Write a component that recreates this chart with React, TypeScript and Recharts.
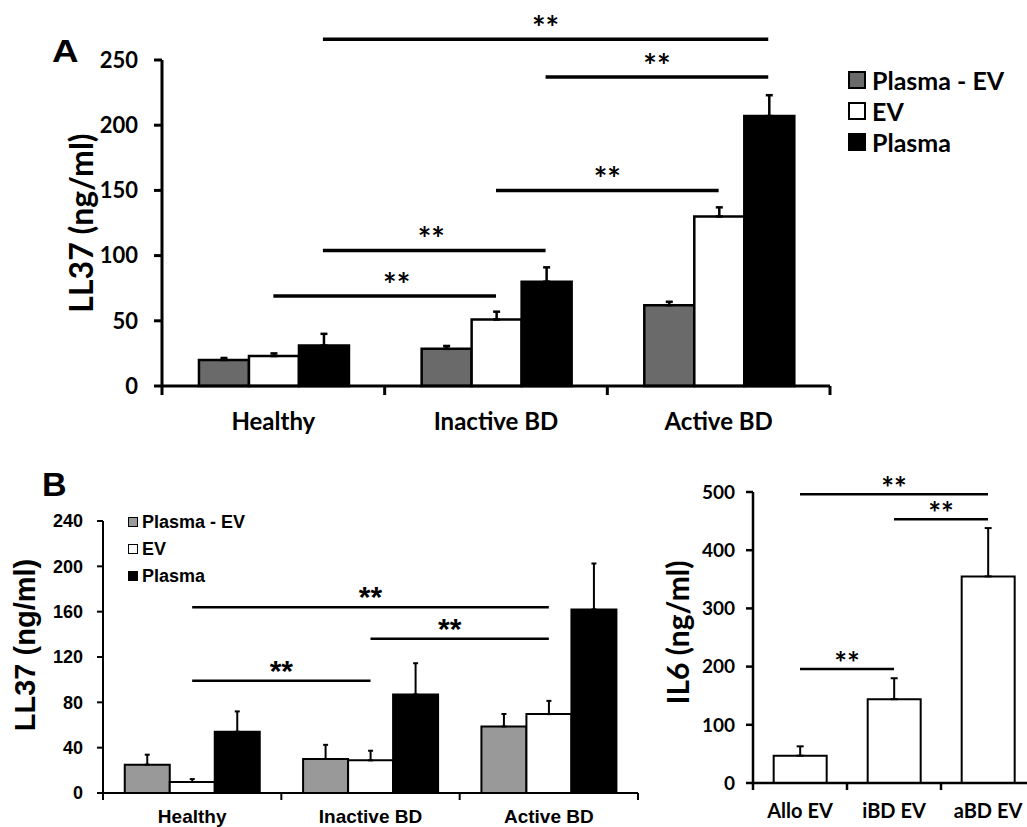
import React from 'react';
import { BarChart, Bar, XAxis, YAxis, ReferenceLine, ErrorBar, Legend, Label } from 'recharts';

// ---------- Panel A data ----------
const groupsA = ['Healthy', 'Inactive BD', 'Active BD'];
const plasmaEvA = [20, 28.5, 62];
const plasmaEvErrA = [1.5, 2.2, 2.6];
const evA = [23, 51, 130];
const evErrA = [2, 6, 7];
const plasmaA = [31, 80, 207];
const plasmaErrA = [9, 11, 16];
const yTicksA = [0, 50, 100, 150, 200, 250];
// significance bars: [group, series] -> [group, series] at level y
const sigA = [
  { from: [0, 2], to: [2, 2], y: 266, dx: 0 },
  { from: [1, 2], to: [2, 2], y: 237, dx: 0 },
  { from: [1, 1], to: [2, 1], y: 150, dx: 0 },
  { from: [0, 2], to: [1, 2], y: 104, dx: -3 },
  { from: [0, 1], to: [1, 1], y: 69, dx: 12 },
];

// ---------- Panel B data ----------
const groupsB = ['Healthy', 'Inactive BD', 'Active BD'];
const plasmaEvB = [25, 30, 58.7];
const plasmaEvErrB = [8.8, 12.5, 11];
const evB = [9.7, 28.8, 69.6];
const evErrB = [2.6, 8.5, 11.7];
const plasmaB = [54, 87, 162];
const plasmaErrB = [18, 27.5, 40.5];
const yTicksB = [0, 40, 80, 120, 160, 200, 240];
const sigB = [
  { from: [0, 1], to: [2, 1], y: 164, dx: 0 },
  { from: [1, 1], to: [2, 1], y: 136, dx: -10 },
  { from: [0, 1], to: [1, 1], y: 99, dx: 0 },
];

// ---------- Panel C data ----------
const groupsC = ['Allo EV', 'iBD EV', 'aBD EV'];
const il6C = [47, 144, 355];
const il6ErrC = [16, 36, 83];
const yTicksC = [0, 100, 200, 300, 400, 500];
const sigC = [
  { from: [0, 0], to: [2, 0], y: 496, dx: 0 },
  { from: [1, 0], to: [2, 0], y: 453, dx: 0 },
  { from: [0, 0], to: [1, 0], y: 196, dx: 0 },
];

const seriesNames = ['Plasma - EV', 'EV', 'Plasma'];

const dataA = groupsA.map((name, i) => ({
  name, pos: i,
  pev: plasmaEvA[i], pevErr: [0, plasmaEvErrA[i]],
  ev: evA[i], evErr: [0, evErrA[i]],
  pl: plasmaA[i], plErr: [0, plasmaErrA[i]],
}));
const dataB = groupsB.map((name, i) => ({
  name, pos: i,
  pev: plasmaEvB[i], pevErr: [0, plasmaEvErrB[i]],
  ev: evB[i], evErr: [0, evErrB[i]],
  pl: plasmaB[i], plErr: [0, plasmaErrB[i]],
}));
const dataC = groupsC.map((name, i) => ({ name, pos: i, v: il6C[i], vErr: [0, il6ErrC[i]] }));

const CAL = "Lato, 'Open Sans', sans-serif";
const ARI = "'Liberation Sans', Arial, sans-serif";

const gapA = 0.166;
const gapB = 0.122;
const gapC = 0.22;

const barCenter = (g: number, s: number, n: number, gap: number) => g + gap + ((s + 0.5) * (1 - 2 * gap)) / n;
const bandTicks = (n: number) => {
  const t: number[] = [];
  for (let i = 0; i < n; i++) t.push(i, i + 0.5);
  t.push(n);
  return t;
};

const makeXTick = (labels: string[], o: { len: number; sw: number; dy: number; font: string; size: number }) => (props: any) => {
  const { x, y, payload } = props;
  const v = payload.value;
  if (Number.isInteger(v)) {
    return <line x1={x} x2={x} y1={y} y2={y + o.len} stroke="#000" strokeWidth={o.sw} />;
  }
  return (
    <text x={x} y={y + o.dy} textAnchor="middle" fontFamily={o.font} fontSize={o.size} fontWeight="bold" fill="#000">
      {labels[Math.floor(v)]}
    </text>
  );
};

const makeStar = (font: string, size: number, dy: number, dx: number) => (props: any) => {
  const vb = props.viewBox || {};
  const cx = (vb.x || 0) + (vb.width || 0) / 2 + dx;
  return (
    <text x={cx} y={(vb.y || 0) + dy} textAnchor="middle" fontFamily={font} fontSize={size} fontWeight="bold" fill="#000">
      **
    </text>
  );
};

const makeYLabel = (text: string, font: string, size: number, offX: number, offY: number) => (props: any) => {
  const vb = props.viewBox || {};
  const cx = (vb.x || 0) + offX;
  const cy = (vb.y || 0) + (vb.height || 0) / 2 + offY;
  return (
    <text x={cx} y={cy} transform={`rotate(-90 ${cx} ${cy})`} textAnchor="middle" dominantBaseline="central" fontFamily={font} fontSize={size} fontWeight="bold" fill="#000">
      {text}
    </text>
  );
};

const makeLegend = (fills: string[], o: { rowH: number; sq: number; border: number; gap: number; font: string; size: number }) => () => (
  <div>
    {seriesNames.map((name, i) => (
      <div key={i} style={{ display: 'flex', alignItems: 'center', height: o.rowH }}>
        <div style={{ width: o.sq, height: o.sq, boxSizing: 'border-box', border: `${o.border}px solid #000`, background: fills[i], marginLeft: 2 }} />
        <span style={{ marginLeft: o.gap, fontFamily: o.font, fontSize: o.size, fontWeight: 'bold', color: '#000', whiteSpace: 'nowrap', lineHeight: 1 }}>{name}</span>
      </div>
    ))}
  </div>
);

const fillsA = ['#6a6a6a', '#ffffff', '#000000'];
const fillsB = ['#999999', '#ffffff', '#000000'];

export default function App() {
  return (
    <div style={{ position: 'absolute', left: 0, top: 0, width: 1027, height: 827, overflow: 'hidden', background: '#fff' }}>
      <div style={{ position: 'absolute', left: 52, top: 35, fontFamily: ARI, fontWeight: 'bold', fontSize: 32, lineHeight: 1, transform: 'scaleX(1.15)', transformOrigin: 'left top' }}>A</div>
      <div style={{ position: 'absolute', left: 42, top: 467, fontFamily: ARI, fontWeight: 'bold', fontSize: 34, lineHeight: 1 }}>B</div>

      {/* Panel A */}
      <div style={{ position: 'absolute', left: 0, top: 0 }}>
        <BarChart width={1027} height={440} data={dataA} margin={{ top: 60, right: 197, bottom: 0, left: 0 }} barGap={0} barCategoryGap={`${gapA * 100}%`}>
          <XAxis dataKey="name" hide height={0} />
          <XAxis xAxisId="n" dataKey="pos" type="number" domain={[0, 3]} allowDataOverflow ticks={bandTicks(3)} interval={0} tickSize={0} tickMargin={0} tickLine={false}
            axisLine={{ stroke: '#000', strokeWidth: 3 }} height={54}
            tick={makeXTick(groupsA, { len: 9, sw: 3, dy: 44, font: CAL, size: 24 })} />
          <YAxis domain={[0, 250]} ticks={yTicksA} width={162} tickSize={8} tickMargin={16} interval={0}
            axisLine={{ stroke: '#000', strokeWidth: 3 }} tickLine={{ stroke: '#000', strokeWidth: 3 }}
            tick={{ fill: '#000', fontFamily: CAL, fontSize: 22, fontWeight: 'bold' }}>
            <Label content={makeYLabel('LL37 (ng/ml)', CAL, 32, 80, 0)} />
          </YAxis>
          <Bar dataKey="pev" name={seriesNames[0]} fill={fillsA[0]} stroke="#000" strokeWidth={2.5} isAnimationActive={false}>
            <ErrorBar dataKey="pevErr" width={3.5} stroke="#000" strokeWidth={2.5} />
          </Bar>
          <Bar dataKey="ev" name={seriesNames[1]} fill={fillsA[1]} stroke="#000" strokeWidth={2.5} isAnimationActive={false}>
            <ErrorBar dataKey="evErr" width={3.5} stroke="#000" strokeWidth={2.5} />
          </Bar>
          <Bar dataKey="pl" name={seriesNames[2]} fill={fillsA[2]} stroke="#000" strokeWidth={2.5} isAnimationActive={false}>
            <ErrorBar dataKey="plErr" width={3.5} stroke="#000" strokeWidth={2.5} />
          </Bar>
          {sigA.map((s, i) => (
            <ReferenceLine key={i} xAxisId="n" ifOverflow="visible" stroke="#000" strokeWidth={3.5}
              segment={[{ x: barCenter(s.from[0], s.from[1], 3, gapA), y: s.y }, { x: barCenter(s.to[0], s.to[1], 3, gapA), y: s.y }]}
              label={makeStar(CAL, 32, 1, s.dx)} />
          ))}
          <Legend layout="vertical" align="center" verticalAlign="middle"
            wrapperStyle={{ left: 846, top: 64.5, width: 180, bottom: 'auto', right: 'auto' }}
            content={makeLegend(fillsA, { rowH: 31, sq: 18, border: 2, gap: 6, font: CAL, size: 25 })} />
        </BarChart>
      </div>

      {/* Panel B */}
      <div style={{ position: 'absolute', left: 0, top: 440 }}>
        <BarChart width={660} height={387} data={dataB} margin={{ top: 81, right: 22, bottom: 0, left: 0 }} barGap={0} barCategoryGap={`${gapB * 100}%`}>
          <XAxis dataKey="name" hide height={0} />
          <XAxis xAxisId="n" dataKey="pos" type="number" domain={[0, 3]} allowDataOverflow ticks={bandTicks(3)} interval={0} tickSize={0} tickMargin={0} tickLine={false}
            axisLine={{ stroke: '#000', strokeWidth: 2 }} height={34}
            tick={makeXTick(groupsB, { len: 7, sw: 2, dy: 30, font: ARI, size: 19 })} />
          <YAxis domain={[0, 240]} ticks={yTicksB} width={103} tickSize={6} tickMargin={14} interval={0}
            axisLine={{ stroke: '#000', strokeWidth: 2 }} tickLine={{ stroke: '#000', strokeWidth: 2 }}
            tick={{ fill: '#000', fontFamily: ARI, fontSize: 18, fontWeight: 'bold' }}>
            <Label content={makeYLabel('LL37 (ng/ml)', ARI, 29, 25, -12)} />
          </YAxis>
          <Bar dataKey="pev" name={seriesNames[0]} fill={fillsB[0]} stroke="#000" strokeWidth={2} isAnimationActive={false}>
            <ErrorBar dataKey="pevErr" width={2.5} stroke="#000" strokeWidth={2} />
          </Bar>
          <Bar dataKey="ev" name={seriesNames[1]} fill={fillsB[1]} stroke="#000" strokeWidth={2} isAnimationActive={false}>
            <ErrorBar dataKey="evErr" width={2.5} stroke="#000" strokeWidth={2} />
          </Bar>
          <Bar dataKey="pl" name={seriesNames[2]} fill={fillsB[2]} stroke="#000" strokeWidth={2} isAnimationActive={false}>
            <ErrorBar dataKey="plErr" width={2.5} stroke="#000" strokeWidth={2} />
          </Bar>
          {sigB.map((s, i) => (
            <ReferenceLine key={i} xAxisId="n" ifOverflow="visible" stroke="#000" strokeWidth={2.5}
              segment={[{ x: barCenter(s.from[0], s.from[1], 3, gapB), y: s.y }, { x: barCenter(s.to[0], s.to[1], 3, gapB), y: s.y }]}
              label={makeStar(ARI, 30, 0, s.dx)} />
          ))}
          <Legend layout="vertical" align="center" verticalAlign="middle"
            wrapperStyle={{ left: 126, top: 68.5, width: 200, bottom: 'auto', right: 'auto' }}
            content={makeLegend(fillsB, { rowH: 27, sq: 10, border: 1, gap: 4, font: ARI, size: 18 })} />
        </BarChart>
      </div>

      {/* Panel C */}
      <div style={{ position: 'absolute', left: 620, top: 440 }}>
        <BarChart width={415} height={387} data={dataC} margin={{ top: 52, right: 0, bottom: 0, left: 0 }} barGap={0} barCategoryGap={`${gapC * 100}%`}>
          <XAxis dataKey="name" hide height={0} />
          <XAxis xAxisId="n" dataKey="pos" type="number" domain={[0, 3]} allowDataOverflow ticks={bandTicks(3)} interval={0} tickSize={0} tickMargin={0} tickLine={false}
            axisLine={{ stroke: '#000', strokeWidth: 2.5 }} height={44}
            tick={makeXTick(groupsC, { len: 7, sw: 2.5, dy: 35, font: CAL, size: 20 })} />
          <YAxis domain={[0, 500]} ticks={yTicksC} width={133} tickSize={7} tickMargin={11} interval={0}
            axisLine={{ stroke: '#000', strokeWidth: 2.5 }} tickLine={{ stroke: '#000', strokeWidth: 2.5 }}
            tick={{ fill: '#000', fontFamily: CAL, fontSize: 19, fontWeight: 'bold' }}>
            <Label content={makeYLabel('IL6 (ng/ml)', CAL, 30, 57, -5)} />
          </YAxis>
          <Bar dataKey="v" name="IL6" fill="#fff" stroke="#000" strokeWidth={2} isAnimationActive={false}>
            <ErrorBar dataKey="vErr" width={3.5} stroke="#000" strokeWidth={2} />
          </Bar>
          {sigC.map((s, i) => (
            <ReferenceLine key={i} xAxisId="n" ifOverflow="visible" stroke="#000" strokeWidth={2.5}
              segment={[{ x: barCenter(s.from[0], s.from[1], 1, gapC), y: s.y }, { x: barCenter(s.to[0], s.to[1], 1, gapC), y: s.y }]}
              label={makeStar(CAL, 30, 5, s.dx)} />
          ))}
        </BarChart>
      </div>
    </div>
  );
}
